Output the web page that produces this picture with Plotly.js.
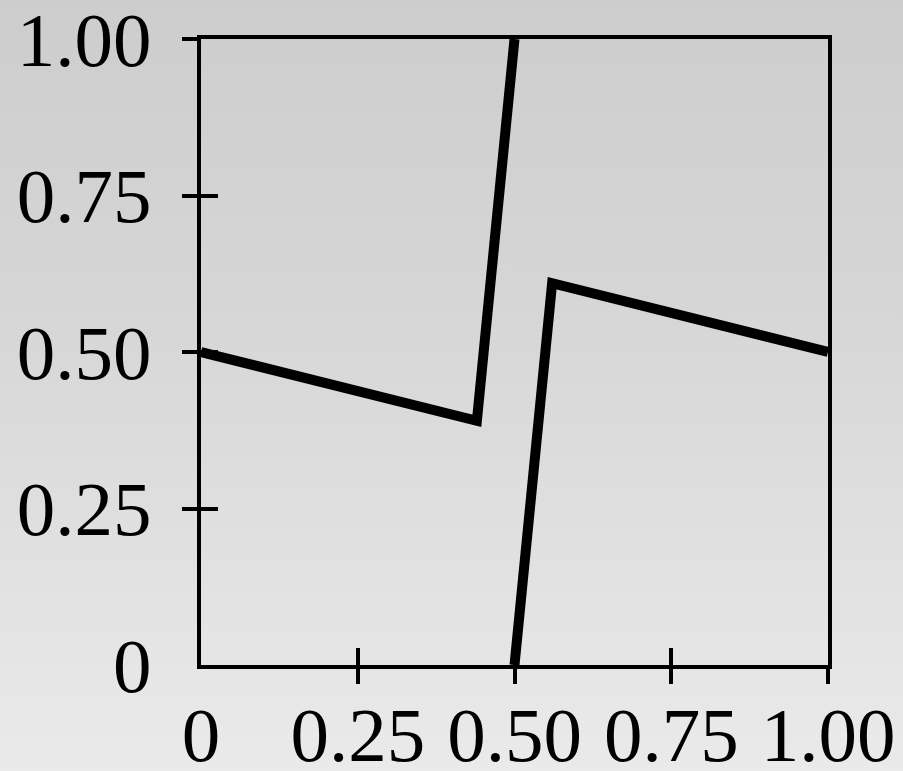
<!DOCTYPE html>
<html>
<head>
<meta charset="utf-8">
<script src="https://cdn.plot.ly/plotly-3.0.1.min.js"></script>
<style>
html,body{margin:0;padding:0;}
body{width:903px;height:771px;background:linear-gradient(to bottom,#cdcdcd 0%,#d6d6d6 40%,#eaeaea 100%);}
#chart{width:903px;height:771px;}
</style>
</head>
<body>
<div id="chart"></div>
<script>
// data
const seriesX = [0, 0.44, 0.5, null, 0.5, 0.56, 1];
const seriesY = [0.5, 0.39, 1.0, null, 0, 0.61, 0.5];
const tickVals = [0, 0.25, 0.5, 0.75, 1];
const tickText = ['0', '0.25', '0.50', '0.75', '1.00'];
const tickMarkVals = [0.25, 0.5, 0.75, 1];

const font = {family: 'Liberation Serif, serif', size: 77, color: '#000'};

const traces = [
  {x: seriesX, y: seriesY, mode: 'lines', line: {color: '#000', width: 10}, connectgaps: false, hoverinfo: 'skip', showlegend: false},
  {x: [], y: [], xaxis: 'x2', yaxis: 'y2', mode: 'lines', showlegend: false},
  {x: [], y: [], xaxis: 'x3', yaxis: 'y3', mode: 'lines', showlegend: false}
];

const base = {range: [0, 1], showgrid: false, zeroline: false, fixedrange: true};
const layout = {
  width: 903, height: 771, autosize: false,
  margin: {l: 201, r: 75, t: 39, b: 106, pad: 0},
  paper_bgcolor: 'rgba(0,0,0,0)', plot_bgcolor: 'rgba(0,0,0,0)',
  font: font,
  showlegend: false,
  xaxis: Object.assign({}, base, {tickmode: 'array', tickvals: tickVals, ticktext: tickText, ticks: '', showline: true, mirror: true, linewidth: 4, linecolor: '#000', tickfont: font, ticklabelstandoff: 0, ticklabeloverflow: 'allow'}),
  yaxis: Object.assign({}, base, {tickmode: 'array', tickvals: tickVals, ticktext: tickText, ticks: '', showline: true, mirror: true, linewidth: 4, linecolor: '#000', tickfont: font, ticklabelstandoff: 30, ticklabeloverflow: 'allow'}),
  xaxis2: Object.assign({}, base, {overlaying: 'x', anchor: 'y2', side: 'bottom', tickmode: 'array', tickvals: tickMarkVals, ticks: 'outside', ticklen: 18, tickwidth: 4, tickcolor: '#000', showticklabels: false, showline: false}),
  yaxis2: Object.assign({}, base, {overlaying: 'y', anchor: 'x2', side: 'left', tickmode: 'array', tickvals: tickMarkVals, ticks: 'outside', ticklen: 18, tickwidth: 4, tickcolor: '#000', showticklabels: false, showline: false}),
  xaxis3: Object.assign({}, base, {overlaying: 'x', anchor: 'y3', side: 'bottom', tickmode: 'array', tickvals: tickMarkVals, ticks: 'inside', ticklen: 17, tickwidth: 4, tickcolor: '#000', showticklabels: false, showline: false}),
  yaxis3: Object.assign({}, base, {overlaying: 'y', anchor: 'x3', side: 'left', tickmode: 'array', tickvals: tickMarkVals, ticks: 'inside', ticklen: 17, tickwidth: 4, tickcolor: '#000', showticklabels: false, showline: false})
};

Plotly.newPlot('chart', traces, layout, {displayModeBar: false, staticPlot: true});
</script>
</body>
</html>
